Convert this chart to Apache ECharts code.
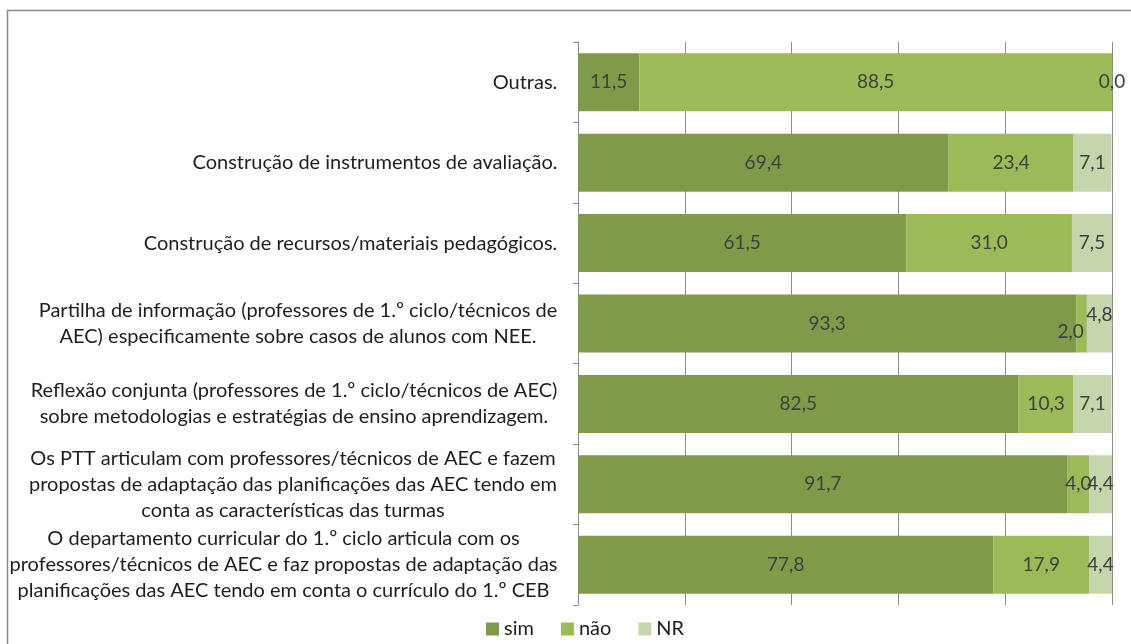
<!DOCTYPE html>
<html>
<head>
<meta charset="utf-8">
<script src="https://cdn.jsdelivr.net/npm/echarts@6/dist/echarts.min.js"></script>
<style>
html,body{margin:0;padding:0;background:#fff;}
#chart{width:1131px;height:644px;}
</style>
</head>
<body>
<div id="chart"></div>
<script>
const categories = [
  "Outras.",
  "Construção de instrumentos de avaliação.",
  "Construção de recursos/materiais pedagógicos.",
  "Partilha de informação (professores de 1.º ciclo/técnicos de\nAEC) especificamente sobre casos de alunos com NEE.",
  "Reflexão conjunta (professores de 1.º ciclo/técnicos de AEC)\nsobre metodologias e estratégias de ensino aprendizagem.",
  "Os PTT articulam com professores/técnicos de AEC e fazem\npropostas de adaptação das planificações das AEC tendo em\nconta as características das turmas",
  "O departamento curricular do 1.º ciclo articula com os\nprofessores/técnicos de AEC e faz propostas de adaptação das\nplanificações das AEC tendo em conta o currículo do 1.º CEB"
];
const seriesNames = ["sim", "não", "NR"];
const simValues = [11.5, 69.4, 61.5, 93.3, 82.5, 91.7, 77.8];
const naoValues = [88.5, 23.4, 31.0, 2.0, 10.3, 4.0, 17.9];
const nrValues  = [0.0, 7.1, 7.5, 4.8, 7.1, 4.4, 4.4];
const xTicks = [0, 20, 40, 60, 80, 100];

const FONT = 'Lato';
const FS_CAT = 20;
const FS_LBL = 19;
const colors = ['#7F9A48', '#9BBB59', '#C5D6AC'];

// measure each category label's longest line, so lines centre within the block
const ctx = document.createElement('canvas').getContext('2d');
ctx.font = FS_CAT + 'px ' + FONT;
const rich = {};
categories.forEach((c, i) => {
  const w = Math.max(...c.split('\n').map(l => ctx.measureText(l).width));
  rich['c' + i] = {width: Math.ceil(w) + 1, align: 'center', fontFamily: FONT, fontSize: FS_CAT, color: '#1e1e1e', lineHeight: 26};
});

// label offsets for a couple of small segments (styling, kept out of data arrays)
const labelOffsets = {
  'não-3': [-11, 8],
  'NR-3': [0, -9]
};

const fmt = p => Number(p.value).toFixed(1).replace('.', ',');
const allValues = [simValues, naoValues, nrValues];

const series = seriesNames.map((name, s) => ({
  name: name,
  type: 'bar',
  stack: 'total',
  barWidth: 58,
  itemStyle: {color: colors[s]},
  label: {
    show: true,
    position: 'inside',
    formatter: fmt,
    color: '#404040',
    fontFamily: FONT,
    fontSize: FS_LBL
  },
  data: allValues[s].map((v, i) => {
    const off = labelOffsets[name + '-' + i];
    return off ? {value: v, label: {offset: off}} : v;
  })
}));

const chart = echarts.init(document.getElementById('chart'), null, {renderer: 'canvas'});
chart.setOption({
  animation: false,
  backgroundColor: '#fff',
  graphic: [{
    type: 'rect',
    shape: {x: 7.5, y: 10.5, width: 1200, height: 700},
    style: {fill: 'none', stroke: '#8a8a8a', lineWidth: 1.5},
    silent: true,
    z: -1
  }],
  grid: {left: 578, right: 19, top: 42, bottom: 39, containLabel: false},
  legend: {
    data: seriesNames,
    left: 481,
    top: 614,
    icon: 'rect',
    itemWidth: 13,
    itemHeight: 13,
    itemGap: 27,
    textStyle: {fontFamily: FONT, fontSize: FS_CAT, color: '#1e1e1e'}
  },
  xAxis: {
    type: 'value',
    min: xTicks[0],
    max: xTicks[xTicks.length - 1],
    interval: 20,
    axisLine: {show: false},
    axisTick: {show: false},
    axisLabel: {show: false},
    splitLine: {show: true, lineStyle: {color: '#8c8c8c', width: 1}}
  },
  yAxis: {
    type: 'category',
    inverse: true,
    data: categories,
    axisLine: {show: true, lineStyle: {color: '#8c8c8c', width: 1}},
    axisTick: {show: true, length: 5, lineStyle: {color: '#8c8c8c'}},
    axisLabel: {
      margin: 20,
      align: 'right',
      formatter: (value, index) => value.split('\n').map(l => '{c' + index + '|' + l + '}').join('\n'),
      rich: rich
    }
  },
  series: series
});
</script>
</body>
</html>
